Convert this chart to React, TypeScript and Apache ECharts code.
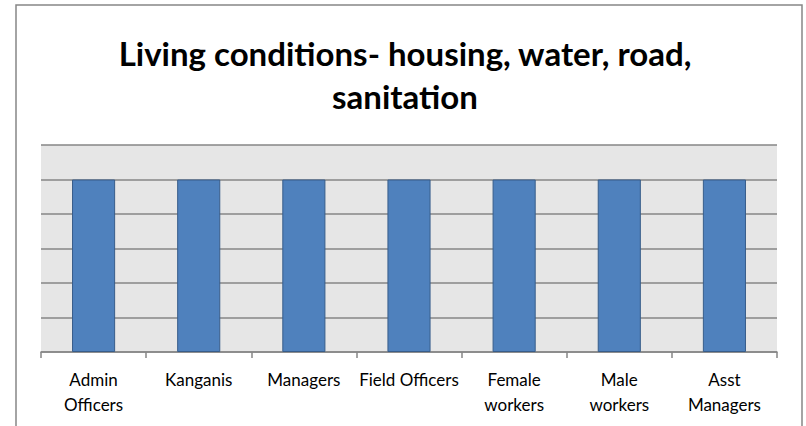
import React, { useEffect, useRef } from "react";
import * as echarts from "echarts";

const titleText = "Living conditions- housing, water, road,\nsanitation";
const categories = [
  "Admin\nOfficers",
  "Kanganis",
  "Managers",
  "Field Officers",
  "Female\nworkers",
  "Male\nworkers",
  "Asst\nManagers",
];
const values = [5, 5, 5, 5, 5, 5, 5];
const yMin = 0;
const yMax = 6;
const yInterval = 1;

export default function App() {
  const ref = useRef<HTMLDivElement>(null);
  useEffect(() => {
    if (!ref.current) return;
    const chart = echarts.init(ref.current, null, { renderer: "svg" });
    chart.setOption({
      animation: false,
      backgroundColor: "#ffffff",
      graphic: [
        {
          type: "rect",
          shape: { x: 16, y: 5, width: 786, height: 460 },
          style: { fill: "none", stroke: "#868686", lineWidth: 1.5 },
          silent: true,
          z: 0,
        },
        {
          type: "text",
          x: 405,
          y: 31,
          silent: true,
          style: {
            text: titleText,
            align: "center",
            verticalAlign: "top",
            fontFamily: "Lato",
            fontWeight: "bold",
            fontSize: 33,
            lineHeight: 43,
            fill: "#000000",
          },
        },
      ],
      grid: {
        left: 41,
        right: 29,
        top: 145,
        bottom: 74,
        show: true,
        backgroundColor: "#e6e6e6",
        borderWidth: 0,
      },
      xAxis: {
        type: "category",
        data: categories,
        axisLine: { show: true, lineStyle: { color: "#868686", width: 1.5 } },
        axisTick: { show: true, length: 6, lineStyle: { color: "#868686", width: 1.5 } },
        axisLabel: {
          interval: 0,
          margin: 15,
          fontFamily: "Lato",
          fontSize: 17,
          lineHeight: 25,
          color: "#000000",
        },
      },
      yAxis: {
        type: "value",
        min: yMin,
        max: yMax,
        interval: yInterval,
        axisLine: { show: false },
        axisTick: { show: false },
        axisLabel: { show: false },
        splitLine: { show: true, lineStyle: { color: "#868686", width: 1.5 } },
      },
      series: [
        {
          type: "bar",
          data: values,
          barWidth: "41%",
          itemStyle: { color: "#4f81bd", borderColor: "#385d8a", borderWidth: 1 },
        },
      ],
    });
    return () => chart.dispose();
  }, []);
  return (
    <div
      ref={ref}
      style={{ position: "fixed", left: 0, top: 0, width: 806, height: 426 }}
    />
  );
}
